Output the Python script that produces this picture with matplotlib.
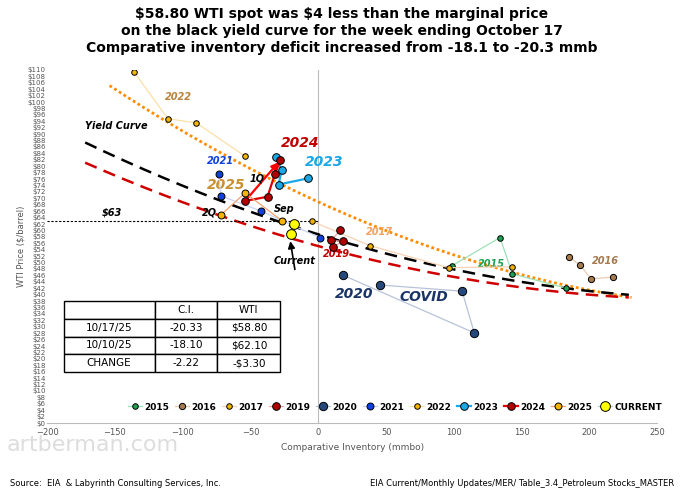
import numpy as np
import matplotlib.pyplot as plt

plt.rcParams["text.parse_math"] = False

# ---- data ----
s2015_x = [98.5, 134, 143, 183];        s2015_y = [49.0, 57.8, 46.5, 42.0]
s2016_x = [184.5, 193, 201, 217];       s2016_y = [51.8, 49.3, 44.9, 45.5]
s2017_x = [-5, 38, 96, 143];            s2017_y = [62.9, 55.3, 48.4, 48.7]
s2019_x = [16, 9.5, 18.4, 11];          s2019_y = [60.0, 56.9, 56.6, 55.0]
s2020_x = [45.6, 106, 115, 18];         s2020_y = [43.0, 41.1, 28.1, 46.1]
s2021_x = [-73.5, -72, -42, 1];         s2021_y = [77.7, 70.8, 66.0, 57.8]
s2022_x = [-136, -111, -90, -54];       s2022_y = [109.4, 94.8, 93.5, 83.1]
s2023_x = [-31, -27, -29.4, -8];        s2023_y = [82.8, 78.7, 74.3, 76.2]
s2024_x = [-54, -37.5, -32, -28];       s2024_y = [69.2, 70.5, 77.7, 81.9]
s2025_x = [-72, -54, -26.5];            s2025_y = [64.8, 71.7, 62.9]
cur_x = [-18.10, -20.33];               cur_y = [62.10, 58.80]

# trend curve control points (x, price)
yield_cx = [-172, 0, 100, 229];  yield_cy = [87.5, 58.3, 48.4, 39.8]
red_cx = [-172, 0, 100, 229];    red_cy = [81.2, 54.7, 46.0, 39.0]
orng_cx = [-154, 0, 100, 231];   orng_cy = [104.6, 71.1, 50.0, 39.8]

table_rows = [["", "C.I.", "WTI"],
              ["10/17/25", "-20.33", "$58.80"],
              ["10/10/25", "-18.10", "$62.10"],
              ["CHANGE", "-2.22", "-$3.30"]]

fig = plt.figure(figsize=(6.84, 4.96), dpi=100)
ax = fig.add_axes([0.069, 0.147, 0.892, 0.712])
ax.set_xlim(-200, 250)
ax.set_ylim(0, 110)

for cx, cy, col, ls, lw in [(orng_cx, orng_cy, "#FF8C00", (0, (1, 1)), 2.0),
                            (yield_cx, yield_cy, "black", (0, (5, 3)), 1.8),
                            (red_cx, red_cy, "#D00000", (0, (5, 3)), 1.8)]:
    p = np.polyfit(cx, cy, 2)
    xx = np.linspace(cx[0], cx[-1], 200)
    ax.plot(xx, np.polyval(p, xx), color=col, ls=ls, lw=lw, zorder=2)

ax.axhline(63, xmax=(0 - -200) / 450, color="black", ls=(0, (2, 1.5)), lw=0.8)
ax.axvline(0, color="#BBBBBB", lw=0.8, zorder=0)

series = [("2015", s2015_x, s2015_y, "#9EE0B8", "#1EA050", 4),
          ("2016", s2016_x, s2016_y, "#E8CDB5", "#A47A4E", 4.5),
          ("2017", s2017_x, s2017_y, "#F8D3B5", "#F0B400", 4),
          ("2019", s2019_x, s2019_y, "#F0A0A0", "#B00000", 5.5),
          ("2020", s2020_x, s2020_y, "#B8C3D8", "#27487A", 6),
          ("2021", s2021_x, s2021_y, "#C9D4F5", "#1040E0", 5),
          ("2022", s2022_x, s2022_y, "#FBE0A8", "#F4B400", 4),
          ("2023", s2023_x, s2023_y, "#1AA8E6", "#1AA8E6", 5.5),
          ("2024", s2024_x, s2024_y, "#E00000", "#B00000", 5.5),
          ("2025", s2025_x, s2025_y, "#F4A070", "#F4B400", 5),
          ("CURRENT", cur_x, cur_y, "#B8C3E8", "#FFFF00", 7)]
handles = []
for name, xs, ys, lc, mc, ms in series:
    lw = 1.6 if name in ("2023", "2024") else 0.9
    h, = ax.plot(xs, ys, color=lc, lw=lw, marker="o", ms=ms, mfc=mc, mec="black",
                 mew=0.7, label=name, zorder=4)
    handles.append(h)

ax.annotate("", xy=(-28, 81.9), xytext=(-54, 69.2),
            arrowprops=dict(arrowstyle="-|>", color="red", lw=1.6), zorder=3)
ax.annotate("", xy=(-21, 57.5), xytext=(-17, 47),
            arrowprops=dict(arrowstyle="-|>", color="black", lw=1.2))

labels = [("2022", -113, 100, "#B8843C", 7), ("Yield Curve", -172, 91, "black", 7),
          ("2024", -28, 85, "#C00000", 10), ("2023", -10, 79, "#1AA8E6", 10),
          ("2021", -82, 80, "#1040E0", 7), ("2025", -82, 72, "#C89030", 10),
          ("1Q", -51, 74.5, "black", 7), ("2Q", -86, 64, "black", 7),
          ("Sep", -33, 65, "black", 7), ("$63", -160, 64, "black", 7),
          ("Current", -33, 49, "black", 7), ("2019", 3, 51, "#C00000", 7),
          ("2017", 35, 58, "#F0A060", 7), ("2015", 118, 48, "#1EA050", 7),
          ("2016", 202, 49, "#A47A4E", 7), ("2020", 12, 38, "#1A3466", 10),
          ("COVID", 60, 37, "#1A3466", 10)]
for t, x, y, c, fs in labels:
    ax.text(x, y, t, color=c, fontsize=fs, fontweight="bold", style="italic",
            ha="left", va="bottom")

ax.set_yticks(np.arange(0, 111, 2))
ax.set_yticklabels([f"${v}" for v in range(0, 111, 2)], fontsize=5, color="#555555")
ax.set_xticks(np.arange(-200, 251, 50))
ax.tick_params(axis="x", labelsize=6, colors="#555555", length=0)
ax.tick_params(axis="y", length=0, pad=1)
for s in ["top", "right", "left"]:
    ax.spines[s].set_visible(False)
ax.spines["bottom"].set_color("#BBBBBB")
ax.set_xlabel("Comparative Inventory (mmbo)", fontsize=6.5, color="#555555")
ax.set_ylabel("WTI Price ($/barrel)", fontsize=6, color="#555555", labelpad=2)

tb = ax.table(cellText=table_rows, cellLoc="center",
              colWidths=[0.145, 0.1, 0.1], bbox=[0.027, 0.145, 0.355, 0.2])
tb.auto_set_font_size(False)
tb.set_fontsize(7.5)
for cell in tb.get_celld().values():
    cell.set_linewidth(1.0)

ax.legend(handles=handles, loc="lower center", bbox_to_anchor=(0.57, 0.02), ncol=11,
          frameon=False, handlelength=1.6, handletextpad=0.25, columnspacing=0.6,
          borderpad=0, prop={"weight": "bold", "size": 6.5})

fig.text(0.5, 0.985, "$58.80 WTI spot was $4 less than the marginal price\n"
         "on the black yield curve for the week ending October 17\n"
         "Comparative inventory deficit increased from -18.1 to -20.3 mmb",
         ha="center", va="top", fontsize=10, fontweight="bold", linespacing=1.25)
fig.text(0.01, 0.09, "artberman.com", fontsize=16, color="#DDDDDD")
fig.text(0.015, 0.02, "Source:  EIA  & Labyrinth Consulting Services, Inc.", fontsize=6)
fig.text(0.985, 0.02, "EIA Current/Monthly Updates/MER/ Table_3.4_Petroleum Stocks_MASTER",
         fontsize=6, ha="right")
fig.savefig("out.png", dpi=100)
